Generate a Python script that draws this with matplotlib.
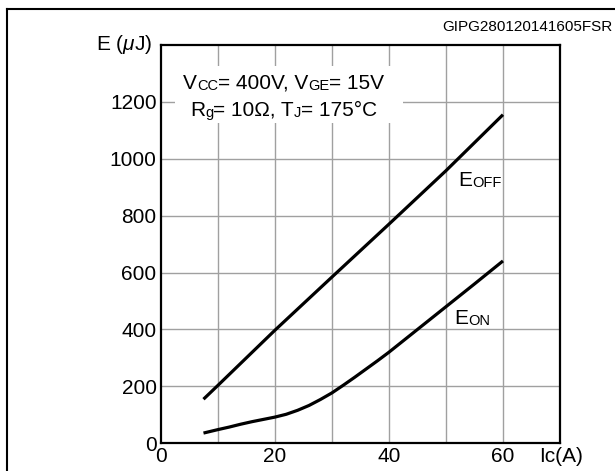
import matplotlib
matplotlib.use("Agg")
import matplotlib.pyplot as plt
from matplotlib.lines import Line2D
from matplotlib.patches import Rectangle

plt.rcParams["font.family"] = ["Liberation Sans", "DejaVu Sans"]
plt.rcParams["mathtext.fontset"] = "custom"
plt.rcParams["mathtext.rm"] = "Liberation Sans"
plt.rcParams["mathtext.it"] = "Liberation Sans:italic"

# data
ic_off = [7.5, 10, 20, 30, 40, 50, 60]
e_off = [155, 203, 397, 584, 770, 958, 1155]

ic_on = [7.5, 10, 12, 14, 16, 18, 20, 22, 24, 26, 28, 30, 32, 34, 36, 38, 40, 45, 50, 55, 60]
e_on = [36, 48, 57, 67, 76, 84, 92, 102, 116, 133, 154, 177, 204, 232, 261, 290, 320, 400, 480, 560, 641]

x_ticks = [0, 20, 40, 60]
y_ticks = [0, 200, 400, 600, 800, 1000, 1200]
x_grid = [10, 20, 30, 40, 50, 60]
y_grid = [200, 400, 600, 800, 1000, 1200]

BIG = 15
SMALL = 10.5


def chain_text(ax, x, y, pieces, transform):
    """Draw text pieces one after another on a common baseline."""
    fs0 = pieces[0][1]
    prev = ax.text(x, y, pieces[0][0], fontsize=fs0, ha="left", va="baseline",
                   transform=transform, zorder=5)
    for s, fs in pieces[1:]:
        prev = ax.annotate(s, xy=(1, 0), xycoords=prev, fontsize=fs,
                           ha="left", va="bottom", zorder=5)
    return prev


fig = plt.figure(figsize=(6.15, 4.71), dpi=100)
ax = fig.add_axes([0.2613, 0.0588, 0.6493, 0.8457])

ax.set_xlim(0, 70)
ax.set_ylim(0, 1400)

for gx in x_grid:
    ax.axvline(gx, color="#a0a0a0", linewidth=1.0, zorder=0.5)
for gy in y_grid:
    ax.axhline(gy, color="#a0a0a0", linewidth=1.0, zorder=0.5)

# white box behind the conditions text
ax.add_patch(Rectangle((0.036, 0.803), 0.570, 0.145, transform=ax.transAxes,
                       facecolor="white", edgecolor="none", zorder=1))

ax.plot(ic_off, e_off, color="black", linewidth=2.3, solid_capstyle="butt", zorder=3)
ax.plot(ic_on, e_on, color="black", linewidth=2.3, solid_capstyle="butt", zorder=3)

ax.set_xticks(x_ticks)
ax.set_yticks(y_ticks)
ax.set_xticklabels([str(v) for v in x_ticks])
ax.set_yticklabels([str(v) for v in y_ticks])
ax.tick_params(axis="both", length=0, labelsize=BIG)
ax.tick_params(axis="x", pad=3)
ax.tick_params(axis="y", pad=3)

for sp in ax.spines.values():
    sp.set_linewidth(1.6)
    sp.set_color("black")
    sp.set_zorder(4)

ax.text(-0.022, 1.0, r"E ($\mu$J)", transform=ax.transAxes, ha="right",
        va="center", fontsize=BIG)
ax.text(0.947, -0.032, "Ic(A)", transform=ax.transAxes, ha="left",
        va="center", fontsize=BIG)

# test conditions
chain_text(ax, 3.9, 1246, [("V", BIG), ("CC", SMALL), ("= 400V, V", BIG),
                           ("GE", SMALL), ("= 15V", BIG)], ax.transData)
chain_text(ax, 5.1, 1152, [("R", BIG), ("g", SMALL), ("= 10\u03a9, T", BIG),
                           ("J", SMALL), ("= 175\u00b0C", BIG)], ax.transData)

# curve labels
chain_text(ax, 52.1, 905, [("E", BIG), ("OFF", SMALL)], ax.transData)
chain_text(ax, 51.4, 421, [("E", BIG), ("ON", SMALL)], ax.transData)

fig.text(0.9965, 0.943, "GIPG280120141605FSR", ha="right", va="center", fontsize=11)

# outer frame (top and left edges)
fig.add_artist(Line2D([0.0114, 1.0], [0.981, 0.981], transform=fig.transFigure,
                      color="black", linewidth=1.5))
fig.add_artist(Line2D([0.0114, 0.0114], [0.0, 0.981], transform=fig.transFigure,
                      color="black", linewidth=1.5))

fig.savefig("out.png", dpi=100)
